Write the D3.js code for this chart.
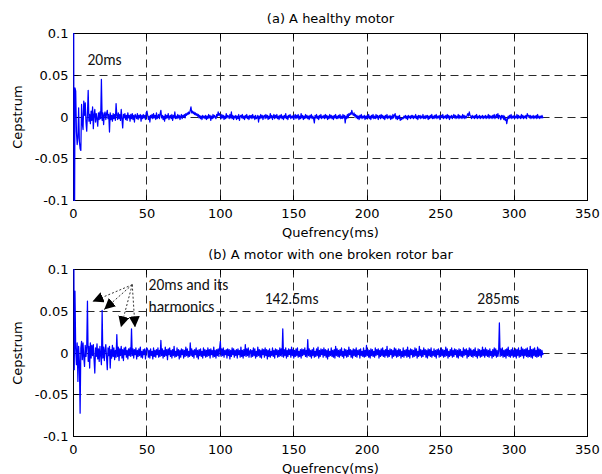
<!DOCTYPE html>
<html><head><meta charset="utf-8">
<script src="https://cdn.jsdelivr.net/npm/d3@7/dist/d3.min.js"></script>
<style>body{margin:0;background:#fff}svg{display:block}</style>
</head><body><svg id="c" width="602" height="474"></svg>
<script>
// ---------------- DATA ----------------
const quefrencyStepMs = 0.5;           // sample spacing of the cepstrum (ms)
const xTicks = [0, 50, 100, 150, 200, 250, 300, 350];
const yTicks = [-0.1, -0.05, 0, 0.05, 0.1];
const yTickLabels = ["-0.1", "-0.05", "0", "0.05", "0.1"];
const xLabel = "Quefrency(ms)";
const yLabel = "Cepstrum";
const panelTitles = ["(a) A healthy motor", "(b) A motor with one broken rotor bar"];

// cepstrum values in units of 0.001, one per 0.5 ms from 0 to 320 ms
const healthyCepstrumMilli = [
 250,
 -250,35,31,-18,-33,-25,11,-29,-38,-40,
 15,-8,-15,19,2,17,-6,-17,4,32,
 -5,3,-8,7,-4,12,-14,3,9,-6,
 4,-2,-11,5,-3,6,-2,45,-4,5,
 -9,3,6,-3,4,8,-2,3,-18,5,
 -3,2,-5,4,-2,3,-4,16,2,-3,
 5,-2,3,-4,9,-2,-13,3,-1,4,
 -3,2,-4,5,-1,2,-5,3,-2,4,
 -3,2,-6,3,1,-2,4,-3,2,-1,
 3,-5,2,-2,3,-1,2,-3,5,7,
 2,-3,1,-6,2,-1,3,-2,4,-1,2,-3,5,-2,1,3,-2,4,8,-1,
 2,-3,1,-5,3,-2,2,-1,4,-3,1,2,-2,3,-4,2,-1,6,-2,1,
 -2,3,-1,2,-3,1,3,-2,2,0,3,-1,4,2,5,3,6,4,8,12,
 5,7,4,6,3,5,2,4,1,3,-1,2,-2,1,-3,2,-1,1,-2,2,
 -3,1,-2,3,-1,2,-4,1,-2,3,-1,2,0,-2,3,1,6,2,4,1,
 -2,3,-1,2,-3,1,-2,4,-1,2,1,-2,3,-1,6,-2,2,-3,1,-1,
 2,-3,1,-2,3,-4,1,2,-1,3,-2,1,-3,2,-1,3,-2,1,-3,2,
 -1,2,-2,3,-1,1,-3,2,-2,-1,2,-6,1,-2,3,-1,2,-3,1,2,
 -2,3,-1,2,-3,1,-2,4,-1,2,-3,1,3,-2,2,-1,3,-2,1,-3,
 2,-1,3,-2,1,-3,2,-1,4,-2,1,-3,2,0,3,-2,1,-1,2,-3,
 1,3,-2,2,-1,3,-3,1,-2,4,-1,2,-3,1,-2,3,-1,2,-2,1,
 -3,2,-1,3,-2,1,-2,-7,2,-1,3,-2,1,-3,2,-1,3,-2,1,-1,
 2,-2,3,-1,2,-3,1,-2,3,-1,2,-2,1,-3,2,-1,3,-2,1,-2,
 2,-1,3,-2,1,-2,3,-1,2,-7,1,-2,3,-1,4,2,5,3,8,4,
 2,5,1,3,-1,2,-2,1,-3,2,-1,3,-2,1,-1,2,-3,1,-2,2,
 -1,3,-2,1,-3,2,-1,3,-2,1,-2,3,-1,2,-3,1,2,-2,3,-1,
 2,-2,1,-3,2,-1,3,-2,1,-1,2,-3,1,-2,3,-1,2,4,-2,1,
 -3,1,-2,2,-4,-2,-3,-1,-2,1,-1,2,-2,1,-3,2,-1,1,-2,2,
 -1,2,-2,1,-1,3,-2,1,-3,2,-1,2,-2,1,-1,3,-2,1,-2,2,
 -1,2,-3,1,-2,2,-1,3,-2,1,-2,2,-1,3,-2,1,-1,2,-3,1,
 2,-1,3,-2,1,-1,2,-2,3,-1,2,-3,1,-1,2,-2,1,3,-1,2,
 -2,1,-1,3,-2,2,-1,1,-2,3,-1,2,-2,1,-1,2,4,1,6,2,
 1,-2,2,-1,1,-2,2,-1,3,-2,1,-1,2,-2,1,-1,2,-2,1,-1,
 2,-2,1,-1,3,-2,2,-1,1,-2,2,-1,3,-2,1,3,-1,4,-2,2,
 1,-3,2,-1,2,-3,1,-4,-2,-8,-3,1,-2,2,-1,3,-2,1,-1,2,
 -2,1,-1,3,-2,2,-1,1,-2,3,-1,2,-2,1,-1,2,-2,4,1,2,
 -1,2,-2,1,-1,2,-2,1,-1,2,-2,3,-1,1,-2,1,-1,2,-1,0
];

const brokenBarCepstrumMilli = [
 250,
 -20,74,5,-14,12,-34,8,-10,-72,6,
 14,-8,12,-5,-16,9,-4,7,62,-10,
 8,-18,12,-6,9,-3,10,-8,-24,6,
 -4,11,-7,5,-10,8,-3,-14,51,-6,
 7,-9,4,10,-5,-20,6,-3,8,-18,
 4,-6,9,-4,6,-8,3,-5,22,-4,
 7,-9,5,-3,8,-6,4,-9,6,-2,
 7,-5,3,-7,5,-3,6,-4,29,-3,
 5,-6,4,-2,6,-7,3,-4,5,-3,
 7,-5,2,-6,4,-2,5,-7,3,6,
 4,-5,3,-6,5,-3,2,-7,6,-4,3,-5,4,-2,6,-5,3,-4,15,-3,
 5,-6,3,-4,7,-3,4,-8,5,-2,6,-4,3,-6,4,-3,8,-5,2,-4,
 6,-3,4,-7,3,-5,5,-2,4,-6,3,-4,7,-3,5,-5,2,-4,12,-3,
 5,-4,3,-6,4,-2,6,-5,3,-7,4,-3,5,-4,2,-6,6,-3,4,-5,
 3,-4,6,-3,4,-6,5,-2,3,-5,7,-4,3,-6,4,-3,5,-4,6,14,
 -4,5,-3,6,-5,3,-2,4,-6,5,-3,4,-7,3,-4,6,-2,5,-5,3,
 -3,4,-6,5,-2,3,-5,7,-4,3,-6,4,-3,10,-4,5,-3,6,-5,2,
 4,-5,3,-4,6,-3,5,-6,2,-4,7,-3,4,-5,3,-6,5,-2,4,-5,
 6,-3,4,-7,3,-4,5,-5,2,-3,6,-4,3,-6,5,-2,4,-5,3,-4,
 6,-3,5,-4,29,-5,4,-3,6,-6,3,-4,5,-2,4,-5,7,-3,4,-6,
 3,-4,5,-3,6,-5,2,-4,4,-6,5,-3,4,-2,6,-4,3,-5,16,-3,
 5,-4,3,-6,4,-3,6,-5,2,-4,5,-3,7,-6,3,-4,5,-2,4,-5,
 6,-3,4,-5,3,-7,5,-4,2,-3,6,-4,3,-5,4,-6,8,-3,5,-4,
 3,-5,4,-3,6,-4,2,-6,5,-3,4,-5,3,-4,7,-2,4,-5,3,-6,
 5,-3,4,-4,6,-5,3,-2,4,-6,5,-3,2,-4,6,-5,3,-4,9,-3,
 4,-5,3,-6,5,-3,4,-4,2,-5,6,-3,4,-2,5,-6,3,-4,5,-3,
 6,-4,3,-5,4,-3,8,-5,3,-4,5,-2,4,-6,3,-4,6,-3,5,-5,
 3,-4,5,-3,4,-6,2,-4,6,-5,3,-3,4,-5,7,-4,3,-6,5,-2,
 4,-5,3,-4,6,-3,5,-6,2,-4,8,-3,4,-5,3,-4,6,-2,4,-5,
 3,-6,5,-3,4,-4,6,-5,2,-3,5,-4,3,-6,4,-2,5,-5,3,-4,
 6,-3,4,-5,3,-4,7,-3,5,-6,2,-4,4,-3,6,-5,3,-4,5,-2,
 4,-5,3,-6,5,-3,4,-4,2,-5,6,-3,4,-2,5,-6,3,-4,6,-3,
 5,-4,3,-5,4,-3,6,-4,2,-6,5,-3,4,-5,3,-4,7,-3,4,-5,
 6,-3,4,-4,3,-5,5,-3,2,-6,4,-4,6,-3,5,-5,3,-4,2,36,
 -4,5,-3,6,-5,3,-4,4,-6,5,-3,7,-4,3,-5,4,-3,6,-5,3,
 -4,5,-6,4,-3,6,-5,3,-4,7,-3,5,-6,4,-3,5,-4,6,-5,3,
 -4,8,-5,4,-6,5,-3,6,-4,3,-5,7,-4,5,-3,4,-5,3,-2,0
];

// text annotations (data coordinates: quefrency ms, cepstrum)
const annotationsTop = [{text: "20ms", q: 9.5, c: 0.062}];
const annotationsBottom = [
  {text: "20ms and its", q: 51.1, c: 0.0757},
  {text: "harmonics",    q: 51.1, c: 0.049},
  {text: "142.5ms",      q: 130.2, c: 0.0587},
  {text: "285ms",        q: 275.0, c: 0.0587}
];
const arrowOrigin = {q: 40.0, c: 0.0818};
const arrowTips = [
  {q: 12.95, c: 0.0616},
  {q: 20.9,  c: 0.0521},
  {q: 32.3,  c: 0.0308},
  {q: 41.9,  c: 0.0308}
];

// ---------------- DRAW ----------------
const svg = d3.select("#c");
const left = 73.5, right = 587.5;
const panels = [
  {top: 33.5,  bottom: 200.5, data: healthyCepstrumMilli,   title: panelTitles[0], ann: annotationsTop, arrows: false},
  {top: 269.5, bottom: 436.5, data: brokenBarCepstrumMilli, title: panelTitles[1], ann: annotationsBottom, arrows: true}
];
const axisFont = "'DejaVu Sans', sans-serif";
const annFont = "Carlito, Lato, sans-serif";
const crisp = v => Math.round(v - 0.5) + 0.5;

const defs = svg.append("defs");
defs.append("marker").attr("id", "ah")
  .attr("viewBox", "0 0 10 10").attr("refX", 10).attr("refY", 5)
  .attr("markerUnits", "userSpaceOnUse").attr("markerWidth", 11).attr("markerHeight", 11)
  .attr("orient", "auto")
  .append("path").attr("d", "M0,0 L10,5 L0,10 Z").attr("fill", "#000");

panels.forEach((p, k) => {
  const x = d3.scaleLinear().domain([0, 350]).range([left, right]);
  const y = d3.scaleLinear().domain([-0.1, 0.1]).range([p.bottom, p.top]);
  const g = svg.append("g");

  defs.append("clipPath").attr("id", "clip" + k)
    .append("rect").attr("x", left - 1).attr("y", p.top - 0.5)
    .attr("width", right - left + 1).attr("height", p.bottom - p.top + 1);

  // grid
  g.selectAll(".gx").data(xTicks.slice(1, -1)).join("line")
    .attr("x1", d => crisp(x(d))).attr("x2", d => crisp(x(d)))
    .attr("y1", p.top).attr("y2", p.bottom)
    .attr("stroke", "#2a2a2a").attr("stroke-width", 1).attr("stroke-dasharray", "8,5");
  g.selectAll(".gy").data(yTicks.slice(1, -1)).join("line")
    .attr("y1", d => crisp(y(d))).attr("y2", d => crisp(y(d)))
    .attr("x1", left).attr("x2", right)
    .attr("stroke", "#2a2a2a").attr("stroke-width", 1).attr("stroke-dasharray", "8,5");

  // box
  g.append("rect").attr("x", left).attr("y", p.top)
    .attr("width", right - left).attr("height", p.bottom - p.top)
    .attr("fill", "none").attr("stroke", "#000").attr("stroke-width", 1);

  // inward ticks
  const tl = 5;
  xTicks.forEach(t => {
    const xx = crisp(x(t));
    g.append("line").attr("x1", xx).attr("x2", xx).attr("y1", p.bottom).attr("y2", p.bottom - tl).attr("stroke", "#000");
    g.append("line").attr("x1", xx).attr("x2", xx).attr("y1", p.top).attr("y2", p.top + tl).attr("stroke", "#000");
  });
  yTicks.forEach(t => {
    const yy = crisp(y(t));
    g.append("line").attr("x1", left).attr("x2", left + tl).attr("y1", yy).attr("y2", yy).attr("stroke", "#000");
    g.append("line").attr("x1", right).attr("x2", right - tl).attr("y1", yy).attr("y2", yy).attr("stroke", "#000");
  });

  // tick labels
  g.selectAll(".xt").data(xTicks).join("text")
    .attr("x", d => x(d)).attr("y", p.bottom + 17)
    .attr("text-anchor", "middle").attr("font-family", axisFont).attr("font-size", 13)
    .attr("fill", "#000").text(d => d);
  g.selectAll(".yt").data(yTicks).join("text")
    .attr("x", left - 5).attr("y", d => y(d)).attr("dy", "0.36em")
    .attr("text-anchor", "end").attr("font-family", axisFont).attr("font-size", 13)
    .attr("fill", "#000").text((d, i) => yTickLabels[i]);

  // axis labels + title
  g.append("text").attr("x", (left + right) / 2).attr("y", p.bottom + 36)
    .attr("text-anchor", "middle").attr("font-family", axisFont).attr("font-size", 13).text(xLabel);
  g.append("text").attr("transform", `translate(22,${(p.top + p.bottom) / 2}) rotate(-90)`)
    .attr("text-anchor", "middle").attr("font-family", axisFont).attr("font-size", 13).text(yLabel);
  g.append("text").attr("x", (left + right) / 2).attr("y", p.top - 11)
    .attr("text-anchor", "middle").attr("font-family", axisFont).attr("font-size", 13).text(p.title);

  // series
  const line = d3.line()
    .x((d, i) => x(i * quefrencyStepMs))
    .y(d => y(d / 1000));
  g.append("path").datum(p.data)
    .attr("clip-path", `url(#clip${k})`)
    .attr("d", line).attr("fill", "none").attr("stroke", "#0000ff").attr("stroke-width", 1.25)
    .attr("stroke-linejoin", "round");

  // annotations
  g.selectAll(".ann").data(p.ann).join("text")
    .attr("x", d => x(d.q)).attr("y", d => y(d.c))
    .attr("font-family", annFont).attr("font-size", 15.5).attr("fill", "#111").text(d => d.text);

  if (p.arrows) {
    g.selectAll(".arr").data(arrowTips).join("line")
      .attr("x1", x(arrowOrigin.q)).attr("y1", y(arrowOrigin.c))
      .attr("x2", d => x(d.q)).attr("y2", d => y(d.c))
      .attr("stroke", "#333").attr("stroke-width", 1).attr("stroke-dasharray", "2,2")
      .attr("marker-end", "url(#ah)");
  }
});
</script></body></html>
